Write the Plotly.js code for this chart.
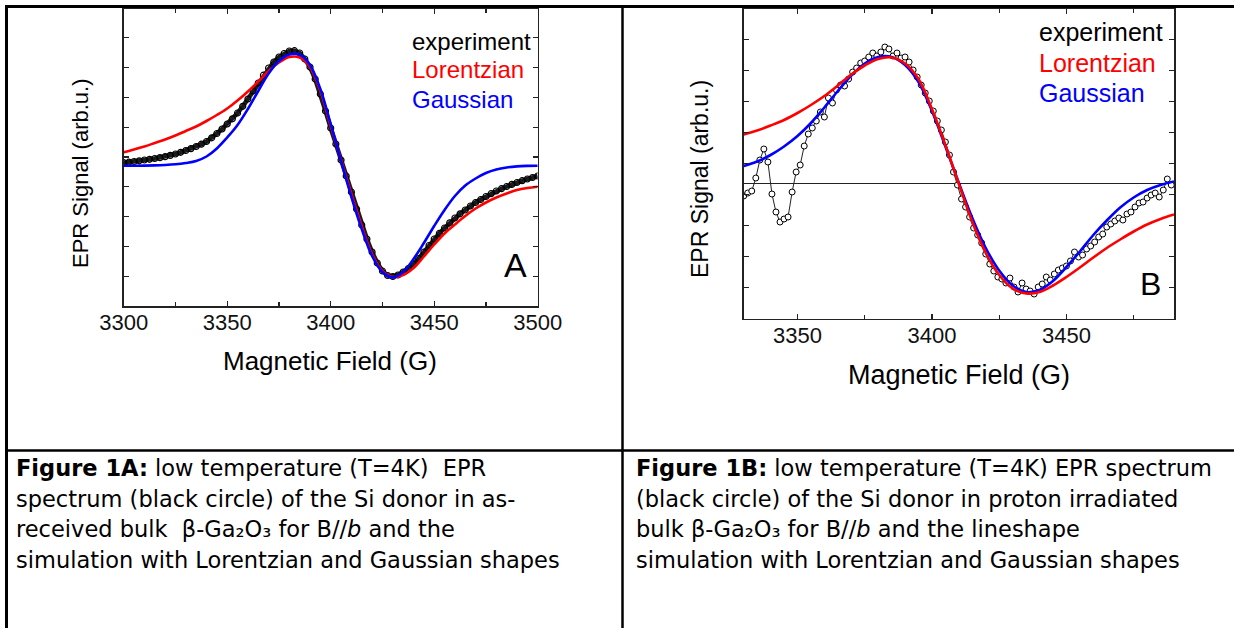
<!DOCTYPE html>
<html>
<head>
<meta charset="utf-8">
<script src="https://cdn.plot.ly/plotly-3.0.1.min.js"></script>
<style>
html,body{margin:0;padding:0;background:#fff;}
#chart{width:1234px;height:628px;}
</style>
</head>
<body>
<div id="chart"></div>
<script>
// ---------- Panel A data (arb. units) ----------
const expAx = [3300,3302.5,3305,3307.5,3310,3312.5,3315,3317.5,3320,3322.5,3325,3327.5,3330,3332.5,3335,3337.5,3340,3342.5,3345,3347.5,3350,3352.5,3355,3357.5,3360,3362.5,3365,3367.5,3370,3372.5,3375,3377.5,3380,3382.5,3385,3387.5,3390,3392.5,3395,3397.5,3400,3402.5,3405,3407.5,3410,3412.5,3415,3417.5,3420,3422.5,3425,3427.5,3430,3432.5,3435,3437.5,3440,3442.5,3445,3447.5,3450,3452.5,3455,3457.5,3460,3462.5,3465,3467.5,3470,3472.5,3475,3477.5,3480,3482.5,3485,3487.5,3490,3492.5,3495,3497.5,3500];
const expAy = [-5.7,-5.2,-4.5,-3.8,-3,-2.3,-1.5,-0.6,0.3,1.6,3,4.7,6.5,8.4,10.5,12.8,15.5,19.2,23.5,28,33,38.2,44,50.7,58,66,74,81.8,89,95,100,103.5,106,106.3,104,98,90,78,63,46,29,13,-3,-19,-35,-52,-68,-82,-95,-106,-114,-118.5,-119.5,-118,-115,-111.5,-107,-101.5,-95,-88.5,-82,-76.3,-71,-65.8,-61,-56.8,-53,-49,-45.5,-42.5,-39.5,-36.7,-34,-31.7,-29.5,-27.4,-25.5,-23.7,-22,-20.5,-19];
const fitAx = [3300,3305,3310,3315,3320,3325,3330,3335,3340,3345,3350,3355,3360,3365,3370,3375,3380,3385,3390,3395,3400,3405,3410,3415,3420,3425,3430,3435,3440,3445,3450,3455,3460,3465,3470,3475,3480,3485,3490,3495,3500];
const lorAy = [4.7,7.5,10.5,14,17.5,21.5,26,30.5,36,42,48.5,56.5,65.5,75.5,86,94.5,100,99.5,90,66,31,-3,-37,-69,-97,-114,-120,-118,-111,-99.5,-87.5,-76.5,-67.5,-59,-51.5,-45.5,-40.5,-36.5,-33,-31,-29.7];
const gauAy = [-8.7,-8.7,-8.6,-8.4,-8,-7.3,-6,-4,0.5,8.5,19.5,32,48,66,83.5,96,102.5,102.5,92,68,33,-4,-40,-72,-99,-115,-120.5,-115,-102,-86,-69,-53,-39,-28.5,-21.5,-16,-12.5,-10.5,-9.4,-8.9,-8.7];

// ---------- Panel B data (arb. units) ----------
const expBx = [3330,3331.5,3333,3334.5,3336,3337.5,3339,3340.5,3342,3343.5,3345,3346.5,3348,3349.5,3351,3352.5,3354,3355.5,3357,3358.5,3360,3361.5,3363,3364.5,3366,3367.5,3369,3370.5,3372,3373.5,3375,3376.5,3378,3379.5,3381,3382.5,3384,3385.5,3387,3388.5,3390,3391.5,3393,3394.5,3396,3397.5,3399,3400.5,3402,3403.5,3405,3406.5,3408,3409.5,3411,3412.5,3414,3415.5,3417,3418.5,3420,3421.5,3423,3424.5,3426,3427.5,3429,3430.5,3432,3433.5,3435,3436.5,3438,3439.5,3441,3442.5,3444,3445.5,3447,3448.5,3450,3451.5,3453,3454.5,3456,3457.5,3459,3460.5,3462,3463.5,3465,3466.5,3468,3469.5,3471,3472.5,3474,3475.5,3477,3478.5,3480,3481.5,3483,3484.5,3486,3487.5,3489];
const expBy = [-13,-10,-8,5,23,34,21,-11,-29,-39,-36,-34,-9,11,18,37,49,55,62,71,66,85,80,93,98,97,104,111,115,120,122,126,130,127,131,136,134,127,130,125,126,121,113,106,98,90,82,72,62,53,41,28,11,-2,-16,-24,-34,-45,-52,-60,-71,-81,-88,-94,-96,-100,-95,-104,-109,-100,-106,-108,-111,-104,-101,-94,-97,-91,-87,-85,-83,-78,-69,-74,-72,-66,-63,-59,-54,-51,-44,-41,-38,-35,-37,-31,-29,-24,-20,-19,-15,-12,-10,-14,-7,4,-2];
const fitBx = [3330,3335,3340,3345,3350,3355,3360,3365,3370,3375,3380,3385,3390,3395,3400,3405,3410,3415,3420,3425,3430,3435,3440,3445,3450,3455,3460,3465,3470,3475,3480,3485,3490];
const lorBy = [48.5,52.5,57.5,63,70,78,87,97.5,108.5,117.5,124,125.5,119.5,104,74,38,-1,-39,-70,-92,-105.5,-110.5,-109,-102.5,-94,-84.5,-74.5,-65,-56.5,-48.5,-41.5,-36,-31.5];
const gauBy = [17,21.5,28,36.5,47,60,75.5,92,107.5,119.5,126,126,118,101,72,36.5,0,-35,-65,-87.5,-102.5,-109,-107,-98,-84,-68.5,-52,-37.5,-24.5,-14.5,-7,-2,1.5];

// ---------- text ----------
const legendNames = ["experiment","Lorentzian","Gaussian"];
const legendColors = ["#000000","#ff0000","#0000ff"];
const xTitle = "Magnetic Field (G)";
const yTitle = "EPR Signal (arb.u.)";
const NB = "\u00a0";
const capA = [
  "<b>Figure 1A:</b> low temperature (T=4K)"+NB+NB+"EPR",
  "spectrum (black circle) of the Si donor in as-",
  "received bulk"+NB+NB+"β-Ga₂O₃ for B//<i>b</i> and the",
  "simulation with Lorentzian and Gaussian shapes"
];
const capB = [
  "<b>Figure 1B:</b> low temperature (T=4K) EPR spectrum",
  "(black circle) of the Si donor in proton irradiated",
  "bulk β-Ga₂O₃ for B//<i>b</i> and the lineshape",
  "simulation with Lorentzian and Gaussian shapes"
];

// ---------- geometry helpers (pixel -> paper) ----------
const W = 1234, H = 628;
const fx = p => p / W;
const fy = p => 1 - p / H;
const FONT = "Liberation Sans, Arial, Helvetica, sans-serif";
const CAPFONT = "DejaVu Sans, sans-serif";

const traces = [
  {x: expAx, y: expAy, xaxis:'x', yaxis:'y', mode:'lines+markers', type:'scatter',
   line:{color:'#1a1a1a', width:4.5},
   marker:{symbol:'circle-open', size:6, color:'#000', line:{width:1.2}}},
  {x: fitAx, y: lorAy, xaxis:'x', yaxis:'y', mode:'lines', type:'scatter',
   line:{color:'#ff0000', width:2.6, shape:'spline', smoothing:1}},
  {x: fitAx, y: gauAy, xaxis:'x', yaxis:'y', mode:'lines', type:'scatter',
   line:{color:'#0000ff', width:2.6, shape:'spline', smoothing:1}},
  {x: expBx, y: expBy, xaxis:'x2', yaxis:'y2', mode:'lines+markers', type:'scatter',
   line:{color:'#222', width:1},
   marker:{symbol:'circle', size:6, color:'#ffffff', line:{color:'#000', width:1}}},
  {x: fitBx, y: gauBy, xaxis:'x2', yaxis:'y2', mode:'lines', type:'scatter',
   line:{color:'#0000ff', width:2.6, shape:'spline', smoothing:1}},
  {x: fitBx, y: lorBy, xaxis:'x2', yaxis:'y2', mode:'lines', type:'scatter',
   line:{color:'#ff0000', width:2.6, shape:'spline', smoothing:1}}
];

const axCommon = {
  showline:true, mirror:'ticks', linecolor:'#222', linewidth:1.5,
  ticks:'inside', ticklen:5, tickwidth:1.2, tickcolor:'#222',
  showgrid:false, zeroline:false, fixedrange:true
};

const layout = {
  width: W, height: H,
  margin:{l:0,r:0,t:0,b:0},
  paper_bgcolor:'#fff', plot_bgcolor:'#fff',
  showlegend:false,
  xaxis: Object.assign({}, axCommon, {
    domain:[fx(123.7), fx(537.7)], anchor:'y', range:[3300,3500],
    tick0:3300, dtick:50, ticklabelstandoff:-4,
    minor:{dtick:25, ticks:'inside', ticklen:4, tickcolor:'#222', tickwidth:1.2},
    tickfont:{family:FONT, size:22, color:'#111'}
  }),
  yaxis: Object.assign({}, axCommon, {
    domain:[fy(306), fy(9)], anchor:'x', range:[-149,148],
    tick0:0, dtick:29.8, showticklabels:false
  }),
  xaxis2: Object.assign({}, axCommon, {
    domain:[fx(743.7), fx(1174)], anchor:'y2', range:[3330,3490],
    tick0:3350, dtick:50, ticklabelstandoff:-4,
    minor:{dtick:25, ticks:'inside', ticklen:4, tickcolor:'#222', tickwidth:1.2},
    tickfont:{family:FONT, size:22, color:'#111'}
  }),
  yaxis2: Object.assign({}, axCommon, {
    domain:[fy(318.7), fy(9)], anchor:'x2', range:[-135.7,174],
    tick0:19.3, dtick:31, showticklabels:false,
    zeroline:true, zerolinecolor:'#222', zerolinewidth:1
  }),
  shapes:[
    {type:'line', xref:'paper', yref:'paper', x0:fx(5), x1:fx(1234), y0:fy(6.5), y1:fy(6.5), line:{color:'#000', width:3}, layer:'above'},
    {type:'line', xref:'paper', yref:'paper', x0:fx(6.5), x1:fx(6.5), y0:fy(5), y1:fy(628), line:{color:'#000', width:3}, layer:'above'},
    {type:'line', xref:'paper', yref:'paper', x0:fx(622.5), x1:fx(622.5), y0:fy(5), y1:fy(628), line:{color:'#000', width:2.5}, layer:'above'},
    {type:'line', xref:'paper', yref:'paper', x0:fx(5), x1:fx(1234), y0:fy(450.5), y1:fy(450.5), line:{color:'#000', width:2.5}, layer:'above'}
  ],
  annotations:[]
};

const ann = layout.annotations;
function addText(text, x, y, size, opts) {
  ann.push(Object.assign({text:text, xref:'paper', yref:'paper', x:fx(x), y:fy(y),
    xanchor:'center', yanchor:'middle', showarrow:false,
    font:{family:FONT, size:size, color:'#000'}}, opts||{}));
}
// axis titles
addText(xTitle, 330, 361, 26);
addText(xTitle, 959, 375, 27);
addText(yTitle, 80, 173, 22, {textangle:-90});
addText(yTitle, 700, 179, 23, {textangle:-90});
// legends
legendNames.forEach((n,i) => {
  addText(n, 410, 41 + i*29, 24, {xanchor:'left', font:{family:FONT, size:24, color:legendColors[i]}});
  addText(n, 1037, 32 + i*30.5, 25, {xanchor:'left', font:{family:FONT, size:25, color:legendColors[i]}});
});
// panel letters
addText("A", 515, 265, 34);
addText("B", 1150, 284, 32);
// captions
capA.forEach((t,i) => addText(t, 14, 468 + i*30.7, 22.5, {xanchor:'left', font:{family:CAPFONT, size:22.5, color:'#000'}}));
capB.forEach((t,i) => addText(t, 634, 468 + i*30.7, 22.5, {xanchor:'left', font:{family:CAPFONT, size:22.5, color:'#000'}}));

Plotly.newPlot('chart', traces, layout, {staticPlot:true, displayModeBar:false});
</script>
</body>
</html>
